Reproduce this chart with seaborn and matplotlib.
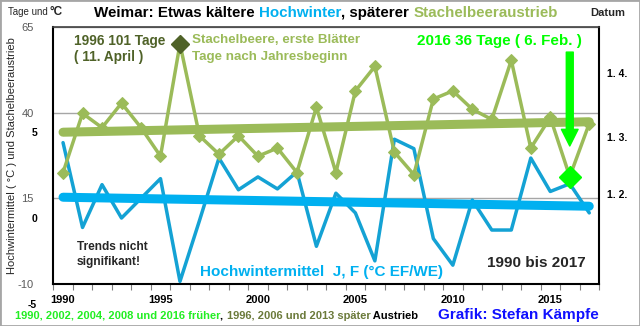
import numpy as np
import matplotlib
matplotlib.use("Agg")
import matplotlib.pyplot as plt
import matplotlib.transforms as mtransforms
from matplotlib.patches import Rectangle
import seaborn as sns

# ---- data -----------------------------------------------------------------
years = list(range(1990, 2018))
# mean temperature January + February (°C), Erfurt-Weimar
hochwinter_temp = [4.45, -0.5, 2.0, 0.05, 1.2, 2.35, -3.65, -0.1, 3.55, 1.7,
                   2.45, 1.75, 2.75, -1.6, 1.5, 0.35, -2.45, 4.65, 4.1, -1.15,
                   -2.7, 1.1, -0.65, -0.65, 3.55, 1.6, 2.05, 0.35]
# first gooseberry leaves, days after 1 January
stachelbeere_tage = [38, 67, 60, 72, 60, 46, 101, 56, 47, 56,
                     46, 50, 38, 70, 38, 78, 90, 48, 37, 74,
                     78, 69, 64, 93, 50, 65, 36, 62]
left_ticks = [65, 40, 15, -10]
temp_ticks = [5, 0, -5]
datum_days = [91, 60, 32]
datum_labels = ["1. 4.", "1. 3.", "1. 2."]
year_ticks = [1990, 1995, 2000, 2005, 2010, 2015]

GREEN = "#9BBB59"
OLIVE = "#4F6228"
LIME = "#00FF00"
CYAN = "#00B0F0"
BLUE_LINE = "#14A2D4"

sns.set_style("white")
plt.rcParams["font.family"] = ["Liberation Sans", "DejaVu Sans"]

W, H = 640, 326
fig = plt.figure(figsize=(W / 100, H / 100), dpi=100)


def fx(px):
    return px / W


def fy(py):
    return 1 - py / H


ax = fig.add_axes([fx(53.3), fy(284), fx(599) - fx(53.3), fy(27) - fy(284)])
ax_t = ax.twinx()   # temperature scale
ax_g = ax.twinx()   # gooseberry scale (days)

# ---- temperature series + trend -------------------------------------------
sns.lineplot(x=years, y=hochwinter_temp, ax=ax_t, color=BLUE_LINE, lw=2.5)
sns.regplot(x=np.array(years), y=np.array(hochwinter_temp), ax=ax_t,
            scatter=False, ci=None, truncate=True, color=CYAN,
            line_kws={"lw": 6.5, "solid_capstyle": "round"})

# ---- gooseberry series + trend --------------------------------------------
sns.lineplot(x=years, y=stachelbeere_tage, ax=ax_g, color=GREEN, lw=2.5,
             marker="D", markersize=6, markeredgecolor=GREEN)
sns.regplot(x=np.array(years), y=np.array(stachelbeere_tage), ax=ax_g,
            scatter=False, ci=None, truncate=True, color=GREEN,
            line_kws={"lw": 6.5, "solid_capstyle": "round"})

i96 = years.index(1996)
i16 = years.index(2016)
ax_g.plot([years[i96]], [stachelbeere_tage[i96]], marker="D", ms=9,
          color=OLIVE, zorder=5)
ax_g.plot([years[i16]], [stachelbeere_tage[i16]], marker="D", ms=11,
          color=LIME, zorder=5)
ax_g.annotate("", xy=(years[i16], stachelbeere_tage[i16] + 15),
              xytext=(years[i16], 97),
              arrowprops=dict(width=5, headwidth=12, headlength=12,
                              color=LIME, shrink=0))

# ---- scales ---------------------------------------------------------------
ax.set_xlim(1989.5, 2017.5)
ax.set_ylim(-10, 65)
ax_t.set_ylim(-3.8, 11.2)
ax_g.set_ylim(-16.6, 109.3)

for a in (ax, ax_t, ax_g):
    a.set_xlabel("")
    a.set_ylabel("")

ax.set_yticks(left_ticks)
ax.set_yticklabels([str(v) for v in left_ticks])
ax.yaxis.grid(True, color="#A6A6A6", lw=1)
ax.tick_params(axis="y", length=0, pad=14, labelsize=8, labelcolor="#595959")
ax.set_xticks(year_ticks)
ax.set_xticklabels([str(y) for y in year_ticks], fontweight="bold")
ax.set_xticks(np.arange(1989.5, 2018, 1), minor=True)
ax.tick_params(axis="x", which="major", length=0, pad=8, labelsize=8,
               labelcolor="black")
ax.tick_params(axis="x", which="minor", length=4, width=0.8, color="#808080",
               direction="out", bottom=True)

ax_t.set_yticks([])
ax_g.set_yticks([])
for a in (ax_t, ax_g):
    for s in a.spines.values():
        s.set_visible(False)
for side in ("left", "bottom", "right"):
    ax.spines[side].set_color("black")
    ax.spines[side].set_linewidth(1.5)
ax.spines["top"].set_color("#404040")
ax.spines["top"].set_linewidth(1.2)

# bold temperature labels on the left
trans_t = mtransforms.blended_transform_factory(fig.transFigure, ax_t.transData)
for v in temp_ticks:
    fig.text(fx(37), v, str(v), transform=trans_t, ha="right", va="center",
             fontsize=7.5, fontweight="bold", color="black")

# date labels on the right, set just below their day position
trans_d = mtransforms.blended_transform_factory(fig.transFigure, ax_g.transData) \
    + mtransforms.ScaledTranslation(0, -0.1, fig.dpi_scale_trans)
for d, lab in zip(datum_days, datum_labels):
    fig.text(fx(607), d, lab, transform=trans_d, ha="left", va="center",
             fontsize=7.5, fontweight="bold", color="black")

# ---- texts ----------------------------------------------------------------
renderer = fig.canvas.get_renderer()


def chained_text(x_px, y_px, pieces, size):
    x = fx(x_px)
    for s, c in pieces:
        t = fig.text(x, fy(y_px), s, color=c, fontsize=size,
                     fontweight="bold", ha="left", va="center")
        x += t.get_window_extent(renderer).width / W


chained_text(94, 13, [("Weimar: Etwas kältere ", "black"),
                      ("Hochwinter", CYAN),
                      (", späterer ", "black"),
                      ("Stachelbeeraustrieb", GREEN)], 10.9)

fig.text(fx(8), fy(12), "Tage und", fontsize=7, ha="left", va="center")
fig.text(fx(50), fy(12), "°C", fontsize=8.5, fontweight="bold", ha="left",
         va="center")
fig.text(fx(590), fy(12.5), "Datum", fontsize=8, fontweight="bold",
         ha="left", va="center")

fig.text(fx(12.5), fy(156), "Hochwintermittel ( °C ) und Stachelbeeraustrieb",
         rotation=90, fontsize=8, ha="center", va="center")

fig.text(fx(74), fy(41), "1996 101 Tage", color=OLIVE, fontsize=9.8,
         fontweight="bold", ha="left", va="center")
fig.text(fx(74), fy(57), "( 11. April )", color=OLIVE, fontsize=9.8,
         fontweight="bold", ha="left", va="center")
fig.text(fx(192), fy(40), "Stachelbeere, erste Blätter", color=GREEN,
         fontsize=9.6, fontweight="bold", ha="left", va="center")
fig.text(fx(192), fy(57), "Tage nach Jahresbeginn", color=GREEN,
         fontsize=9.6, fontweight="bold", ha="left", va="center")
fig.text(fx(417), fy(41.5), "2016 36 Tage ( 6. Feb. )", color=LIME,
         fontsize=11, fontweight="bold", ha="left", va="center")

fig.text(fx(77), fy(246.5), "Trends nicht", fontsize=8.6, fontweight="bold",
         ha="left", va="center")
fig.text(fx(77), fy(262.5), "signifikant!", fontsize=8.6, fontweight="bold",
         ha="left", va="center")
fig.text(fx(200), fy(272), "Hochwintermittel  J, F (°C EF/WE)", color=CYAN,
         fontsize=11, fontweight="bold", ha="left", va="center")
fig.text(fx(487), fy(263), "1990 bis 2017", fontsize=11, fontweight="bold",
         ha="left", va="center")

chained_text(15, 316, [("1990, 2002, 2004, 2008 und 2016 früher", "#22EE22"),
                       (", ", "black"),
                       ("1996, 2006 und 2013 später", "#6B7A3A"),
                       (" Austrieb", "black")], 8)
fig.text(fx(438), fy(315), "Grafik: Stefan Kämpfe", color="#1010FF",
         fontsize=11, fontweight="bold", ha="left", va="center")

fig.add_artist(Rectangle((0, 0), 1, 1, transform=fig.transFigure, fill=False,
                         edgecolor="#A6A6A6", lw=2))

fig.savefig("out.png", dpi=100)
